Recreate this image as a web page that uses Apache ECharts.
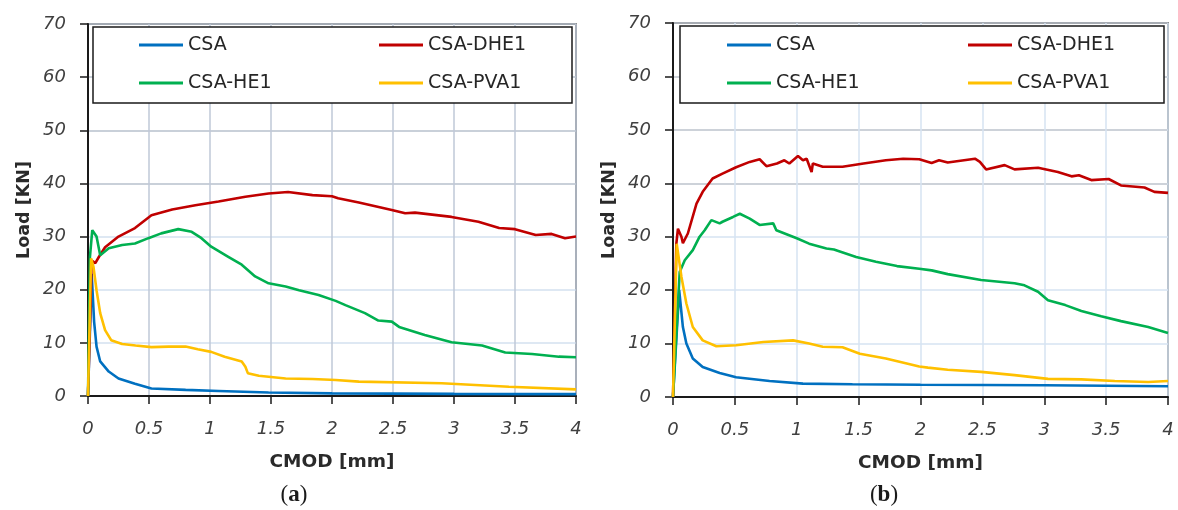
<!DOCTYPE html>
<html>
<head>
<meta charset="utf-8">
<script src="https://cdn.jsdelivr.net/npm/echarts@6/dist/echarts.min.js"></script>
<style>
html,body{margin:0;padding:0;background:#fff;}
#c{width:1178px;height:510px;}
</style>
</head>
<body>
<div id="c"></div>
<script>
// ---- data (CMOD [mm], Load [KN]) ----
const seriesNames = ['CSA', 'CSA-DHE1', 'CSA-HE1', 'CSA-PVA1'];
const xTicks = [0, 0.5, 1, 1.5, 2, 2.5, 3, 3.5, 4];
const yTicks = [0, 10, 20, 30, 40, 50, 60, 70];
const panelLabels = ['a', 'b'];

const csaA = [[0,0],[0.03,23],[0.05,14],[0.07,9.3],[0.1,6.5],[0.17,4.6],[0.25,3.3],[0.385,2.3],[0.52,1.4],[0.8,1.15],[1.07,0.95],[1.48,0.65],[2,0.5],[3,0.4],[4,0.35]];
const dhe1A = [[0,0],[0.03,25.5],[0.06,25.0],[0.09,26.2],[0.14,28],[0.25,30],[0.385,31.6],[0.52,34],[0.69,35.1],[0.88,35.9],[1.07,36.6],[1.29,37.5],[1.48,38.1],[1.64,38.4],[1.84,37.8],[2.0,37.6],[2.05,37.2],[2.22,36.4],[2.49,35.0],[2.6,34.4],[2.68,34.5],[2.98,33.7],[3.2,32.8],[3.37,31.6],[3.5,31.4],[3.67,30.3],[3.8,30.5],[3.91,29.7],[4.0,30.0]];
const he1A = [[0,0],[0.016,26.2],[0.035,31.2],[0.07,30],[0.1,26.5],[0.17,27.8],[0.28,28.4],[0.385,28.7],[0.495,29.7],[0.6,30.6],[0.74,31.4],[0.85,30.9],[0.93,29.7],[1.01,28.1],[1.15,26.2],[1.26,24.7],[1.37,22.5],[1.48,21.2],[1.62,20.6],[1.73,19.9],[1.89,19.0],[2.03,17.9],[2.11,17.1],[2.27,15.6],[2.38,14.2],[2.49,14.0],[2.55,13.0],[2.76,11.5],[2.98,10.1],[3.23,9.5],[3.42,8.2],[3.64,7.9],[3.86,7.4],[4.0,7.3]];
const pva1A = [[0,0],[0.025,25.9],[0.045,24.3],[0.07,19.9],[0.1,15.6],[0.14,12.4],[0.19,10.5],[0.28,9.8],[0.39,9.5],[0.52,9.2],[0.66,9.3],[0.8,9.3],[0.9,8.8],[1.01,8.3],[1.12,7.4],[1.26,6.5],[1.29,5.5],[1.31,4.3],[1.4,3.8],[1.62,3.3],[1.84,3.2],[2.03,3.0],[2.22,2.7],[2.9,2.4],[3.45,1.75],[4.0,1.25]];

const csaB = [[0,0],[0.05,20],[0.08,13.1],[0.108,10],[0.16,7.2],[0.24,5.6],[0.377,4.5],[0.51,3.7],[0.78,3.0],[1.05,2.5],[1.45,2.4],[2.0,2.3],[3.0,2.2],[4.0,2.0]];
const dhe1B = [[0,0],[0.027,28.7],[0.04,31.5],[0.068,30],[0.08,28.8],[0.12,30.6],[0.19,36.2],[0.24,38.4],[0.32,40.9],[0.40,41.8],[0.51,43.0],[0.62,44.0],[0.70,44.5],[0.755,43.2],[0.84,43.7],[0.90,44.3],[0.94,43.7],[1.01,45.1],[1.05,44.3],[1.08,44.6],[1.12,42.1],[1.13,43.7],[1.21,43.1],[1.37,43.1],[1.54,43.7],[1.72,44.3],[1.86,44.6],[1.99,44.5],[2.09,43.8],[2.15,44.3],[2.22,43.9],[2.44,44.6],[2.48,44.0],[2.53,42.6],[2.68,43.4],[2.76,42.6],[2.95,42.9],[3.11,42.1],[3.22,41.3],[3.28,41.5],[3.38,40.6],[3.52,40.8],[3.62,39.6],[3.81,39.2],[3.89,38.4],[4.0,38.2]];
const he1B = [[0,0],[0.054,23.4],[0.095,25.6],[0.16,27.5],[0.215,30],[0.256,31.2],[0.31,33.1],[0.377,32.5],[0.40,32.8],[0.485,33.7],[0.54,34.3],[0.62,33.4],[0.70,32.2],[0.81,32.5],[0.835,31.2],[1.0,29.7],[1.10,28.7],[1.24,27.8],[1.30,27.6],[1.48,26.2],[1.64,25.3],[1.81,24.5],[1.99,24.0],[2.09,23.7],[2.22,23.0],[2.49,21.9],[2.76,21.3],[2.84,20.9],[2.95,19.7],[3.03,18.1],[3.17,17.2],[3.3,16.1],[3.46,15.1],[3.62,14.2],[3.84,13.1],[4.0,12.0]];
const pva1B = [[0,0],[0.03,28.7],[0.068,22.5],[0.108,17.5],[0.16,13.1],[0.24,10.6],[0.35,9.5],[0.51,9.7],[0.73,10.3],[0.97,10.6],[1.10,10.0],[1.21,9.4],[1.37,9.3],[1.51,8.1],[1.72,7.2],[1.99,5.7],[2.06,5.5],[2.22,5.1],[2.49,4.7],[2.76,4.1],[3.03,3.4],[3.3,3.3],[3.57,3.0],[3.84,2.8],[4.0,3.0]];

// ---- styling ----
const colors = {'CSA':'#0070C0','CSA-DHE1':'#C00000','CSA-HE1':'#00B050','CSA-PVA1':'#FFC000'};
const panels = [
  {grid:{left:88, top:24, width:488, height:372}, data:[csaA, dhe1A, he1A, pva1A],
   yGridColors:['#c8d3e0','#d3e0ef','#d3e0ef','#d3e0ef','#b7c0cd','#b7c0cd','#b7c0cd','#b7c0cd'], xGridColor:'#bfc9d7',
   box:{x:93,y:27,w:479,h:76}, legCols:[139,379], labelX:294},
  {grid:{left:673, top:23, width:495, height:374}, data:[csaB, dhe1B, he1B, pva1B],
   yGridColors:['#c8d3e0','#d6e3f2','#d6e3f2','#d6e3f2','#bcc3cc','#bcc3cc','#bcc3cc','#bcc3cc'], xGridColor:'#d6e3f2',
   box:{x:680,y:26,w:484,h:77}, legCols:[727,968], labelX:884}
];

const labelFont = {fontFamily:'DejaVu Sans', fontStyle:'italic', fontSize:18, color:'#404040'};
const nameFont = {fontFamily:'DejaVu Sans', fontWeight:'bold', fontSize:17.5, color:'#2a2a2a'};

const option = {
  animation:false,
  backgroundColor:'#fff',
  grid: panels.map(p => Object.assign({show:true, borderColor:'#3a3a3a', borderWidth:1.5, backgroundColor:'transparent'}, p.grid)),
  xAxis: panels.map((p,i) => ({
    type:'value', gridIndex:i, min:xTicks[0], max:xTicks[xTicks.length-1], interval:0.5,
    name:'CMOD [mm]', nameLocation:'middle', nameGap:57, nameTextStyle:Object.assign({}, nameFont, {fontSize:18.5}),
    axisLine:{show:true, onZero:false, lineStyle:{color:'#1a1a1a', width:2}},
    axisTick:{show:true, inside:false, length:8, lineStyle:{color:'#1a1a1a', width:1.5}},
    axisLabel:Object.assign({margin:24}, labelFont),
    splitLine:{show:true, lineStyle:{color:p.xGridColor, width:1.5}}
  })),
  yAxis: panels.map((p,i) => ({
    type:'value', gridIndex:i, min:yTicks[0], max:yTicks[yTicks.length-1], interval:10,
    name:'Load [KN]', nameLocation:'middle', nameGap:55, nameTextStyle:nameFont,
    axisLine:{show:true, onZero:false, lineStyle:{color:'#1a1a1a', width:2}},
    axisTick:{show:true, inside:false, length:8, lineStyle:{color:'#1a1a1a', width:1.5}},
    axisLabel:Object.assign({margin:22}, labelFont),
    splitLine:{show:true, lineStyle:{color:p.yGridColors, width:1.5}}
  })),
  legend: [],
  graphic: [],
  series: []
};

panels.forEach((p,i) => {
  seriesNames.forEach((n,k) => {
    option.series.push({
      type:'line', name:n, xAxisIndex:i, yAxisIndex:i, data:p.data[k],
      showSymbol:false, symbol:'none', smooth:false, z:2+k,
      lineStyle:{color:colors[n], width:2.6}, itemStyle:{color:colors[n]}
    });
  });
  option.graphic.push({type:'rect', z:3, shape:{x:p.box.x, y:p.box.y, width:p.box.w, height:p.box.h},
    style:{fill:'#fff', stroke:'#1a1a1a', lineWidth:1.5}});
  option.graphic.push({type:'text', z:3, style:{
    x:p.labelX, y:495, align:'center', verticalAlign:'middle',
    text:'{n|(}{b|' + panelLabels[i] + '}{n|)}',
    rich:{n:{fontFamily:'Liberation Serif', fontSize:23, fill:'#1a1a1a'}, b:{fontFamily:'Liberation Serif', fontWeight:'bold', fontSize:23, fill:'#1a1a1a'}}
  }});
  [[seriesNames[0], seriesNames[2]], [seriesNames[1], seriesNames[3]]].forEach((cols,c) => {
    option.legend.push({
      data:cols, orient:'vertical', left:p.legCols[c], top:35, padding:0, itemGap:18,
      itemWidth:44, itemHeight:3, icon:'rect', z:6, selectedMode:false,
      textStyle:{fontFamily:'DejaVu Sans', fontSize:19, color:'#262626', lineHeight:20}
    });
  });
});

const chart = echarts.init(document.getElementById('c'), null, {renderer:'canvas'});
chart.setOption(option);
</script>
</body>
</html>
